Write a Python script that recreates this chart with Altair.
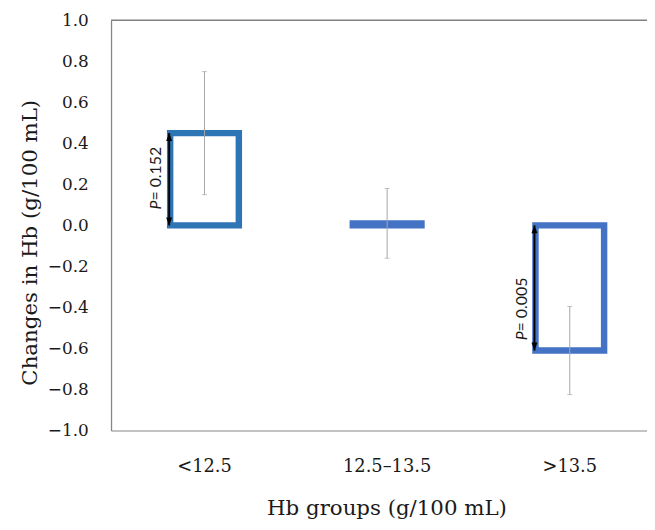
import altair as alt
import pandas as pd

# ---- data ----
groups = ["<12.5", "12.5–13.5", ">13.5"]
means = [0.45, 0.01, -0.61]
errors = [0.30, 0.17, 0.215]
bar_colors = ["#2E75B6", "#4472C4", "#4472C4"]

arrow_groups = ["<12.5", ">13.5"]
arrow_top = [0.45, 0.0]
arrow_bottom = [0.0, -0.61]
p_text = ["= 0.152", "\u00a0= 0.005"]
p_text_pos = [0.121, -0.517]

y_ticks = [-1.0, -0.8, -0.6, -0.4, -0.2, 0.0, 0.2, 0.4, 0.6, 0.8, 1.0]
y_title = "Changes in Hb (g/100 mL)"
x_title = "Hb groups (g/100 mL)"

df = pd.DataFrame({
    "group": groups,
    "mean": means,
    "lo": [m - e for m, e in zip(means, errors)],
    "hi": [m + e for m, e in zip(means, errors)],
    "color": bar_colors,
})
arr = pd.DataFrame({
    "group": arrow_groups,
    "top": arrow_top,
    "bottom": arrow_bottom,
    "text": p_text,
    "pos": p_text_pos,
})
border = pd.DataFrame({"v": [y_ticks[-1]]})

TEXT = "#1a1a1a"
SERIF = "DejaVu Serif"

xscale = alt.Scale(domain=groups, paddingInner=0.624, paddingOuter=0.2793, align=0.5796)
yscale = alt.Scale(domain=[-1, 1], nice=False, zero=False)

xaxis = alt.Axis(
    labelAngle=0, ticks=False, grid=False,
    domainColor="#868686", domainWidth=1.2,
    labelFont=SERIF, labelFontSize=18, labelColor=TEXT,
    labelPadding=27, labelBaseline="top",
    title=x_title, titleFont=SERIF, titleFontSize=21.5, titleFontWeight="normal",
    titleColor=TEXT, titleX=278, titleY=85, titleAlign="center",
    titleBaseline="alphabetic",
)
yaxis = alt.Axis(
    values=y_ticks, ticks=False, grid=False,
    labelExpr="replace(format(datum.value, '.1f'), '-', '\u2212')",
    domainColor="#868686", domainWidth=1.3,
    labelFont=SERIF, labelFontSize=17, labelColor=TEXT, labelPadding=23,
    labelFlush=False, labelOverlap=False, labelBound=False,
    title=y_title, titleFont=SERIF, titleFontSize=21.5, titleFontWeight="normal",
    titleColor=TEXT, titleX=-75, titleY=224, titleAlign="center",
    titleBaseline="alphabetic", titleAngle=270,
)


def X(band_start=False):
    if band_start:
        return alt.X("group:N", scale=xscale, sort=groups, axis=xaxis, bandPosition=0)
    return alt.X("group:N", scale=xscale, sort=groups, axis=xaxis)


def Y(field):
    return alt.Y(field, scale=yscale, axis=yaxis)


bars = alt.Chart(df).mark_bar(fillOpacity=0, strokeWidth=6.5).encode(
    x=X(), y=Y("mean:Q"), y2=alt.datum(0),
    stroke=alt.Stroke("color:N", scale=None),
)
err_line = alt.Chart(df).mark_rule(color="#A6A6A6", strokeWidth=1).encode(
    x=X(), y=Y("lo:Q"), y2="hi:Q"
)
cap_lo = alt.Chart(df).mark_tick(color="#A6A6A6", thickness=1, size=5).encode(
    x=X(), y=Y("lo:Q")
)
cap_hi = alt.Chart(df).mark_tick(color="#A6A6A6", thickness=1, size=5).encode(
    x=X(), y=Y("hi:Q")
)

arrow_line = alt.Chart(arr).mark_rule(color="black", strokeWidth=2, xOffset=-1).encode(
    x=X(True), y=Y("top:Q"), y2="bottom:Q"
)
head_up = alt.Chart(arr).mark_point(
    shape="M0,-1L0.75,1L-0.75,1Z", filled=True, size=64, color="black",
    opacity=1, yOffset=4, xOffset=-1,
).encode(x=X(True), y=Y("top:Q"))
head_down = alt.Chart(arr).mark_point(
    shape="M0,1L0.75,-1L-0.75,-1Z", filled=True, size=64, color="black",
    opacity=1, yOffset=-4, xOffset=-1,
).encode(x=X(True), y=Y("bottom:Q"))

p_italic = alt.Chart(arr).mark_text(
    text="P", font="Lato", fontStyle="italic", fontSize=16, angle=270,
    align="right", baseline="middle", xOffset=-14, color=TEXT,
).encode(x=X(True), y=Y("pos:Q"))
p_rest = alt.Chart(arr).mark_text(
    font="Lato", fontSize=16, angle=270,
    align="left", baseline="middle", xOffset=-14, color=TEXT,
).encode(x=X(True), y=Y("pos:Q"), text="text:N")

top_line = alt.Chart(border).mark_rule(color="#808080", strokeWidth=1.5).encode(
    y=Y("v:Q")
)

chart = alt.layer(
    bars, err_line, cap_lo, cap_hi, arrow_line, head_up, head_down,
    p_italic, p_rest, top_line,
).properties(
    width=541, height=414,
    autosize=alt.AutoSizeParams(type="none"),
    padding={"left": 104, "top": 10, "right": 0, "bottom": 96},
).configure_view(stroke=None)

chart.save("out.html", embed_options={"renderer": "svg", "actions": False})
